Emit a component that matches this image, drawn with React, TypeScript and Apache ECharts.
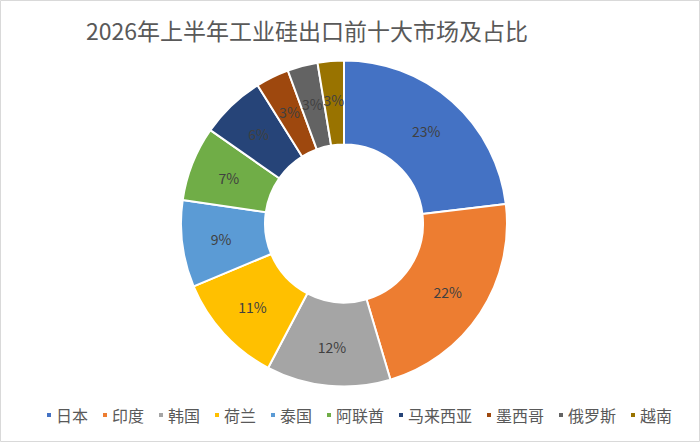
import React, { useEffect, useRef } from "react";
import * as echarts from "echarts";

const categories = ["日本", "印度", "韩国", "荷兰", "泰国", "阿联酋", "马来西亚", "墨西哥", "俄罗斯", "越南"];
const shares = [23.1, 22.3, 12.3, 11.0, 8.6, 7.4, 6.4, 3.3, 3.0, 2.6];
const colors = ["#4472C4", "#ED7D31", "#A5A5A5", "#FFC000", "#5B9BD5", "#70AD47", "#264478", "#9E480E", "#636363", "#997300"];
const titleText = "2026年上半年工业硅出口前十大市场及占比";

export default function App() {
  const ref = useRef<HTMLDivElement>(null);
  useEffect(() => {
    document.body.style.margin = "0";
    const chart = echarts.init(ref.current!, null, { renderer: "svg" });
    const font = '"Noto Sans CJK SC", "Noto Sans", sans-serif';
    chart.setOption({
      animation: false,
      color: colors,
      textStyle: { fontFamily: font },
      title: {
        text: titleText,
        left: 81,
        top: 13,
        textStyle: { fontSize: 23, fontWeight: "normal", color: "#595959", fontFamily: font },
      },
      legend: {
        bottom: 14,
        left: 40,
        icon: "rect",
        itemWidth: 6,
        itemHeight: 6,
        itemGap: 13,
        textStyle: { fontSize: 16, color: "#595959", fontFamily: font, padding: [0, 0, 0, -1] },
        data: categories,
      },
      graphic: [
        {
          type: "rect",
          shape: { x: 0.5, y: 0.5, width: 699, height: 441 },
          style: { fill: "none", stroke: "#D9D9D9", lineWidth: 1 },
          silent: true,
        },
      ],
      series: [
        {
          type: "pie",
          center: [344, 223.5],
          radius: [79, 163],
          startAngle: 90,
          clockwise: true,
          avoidLabelOverlap: false,
          itemStyle: { borderColor: "#FFFFFF", borderWidth: 2 },
          label: {
            show: true,
            position: "inside",
            color: "#404040",
            fontSize: 14,
            fontFamily: font,
            formatter: (p: any) => Math.round(p.value) + "%",
          },
          labelLine: { show: false },
          emphasis: { disabled: true },
          data: categories.map((name, i) => ({ name, value: shares[i] })),
        },
      ],
    });
    return () => chart.dispose();
  }, []);
  return <div ref={ref} style={{ width: 700, height: 442 }} />;
}
